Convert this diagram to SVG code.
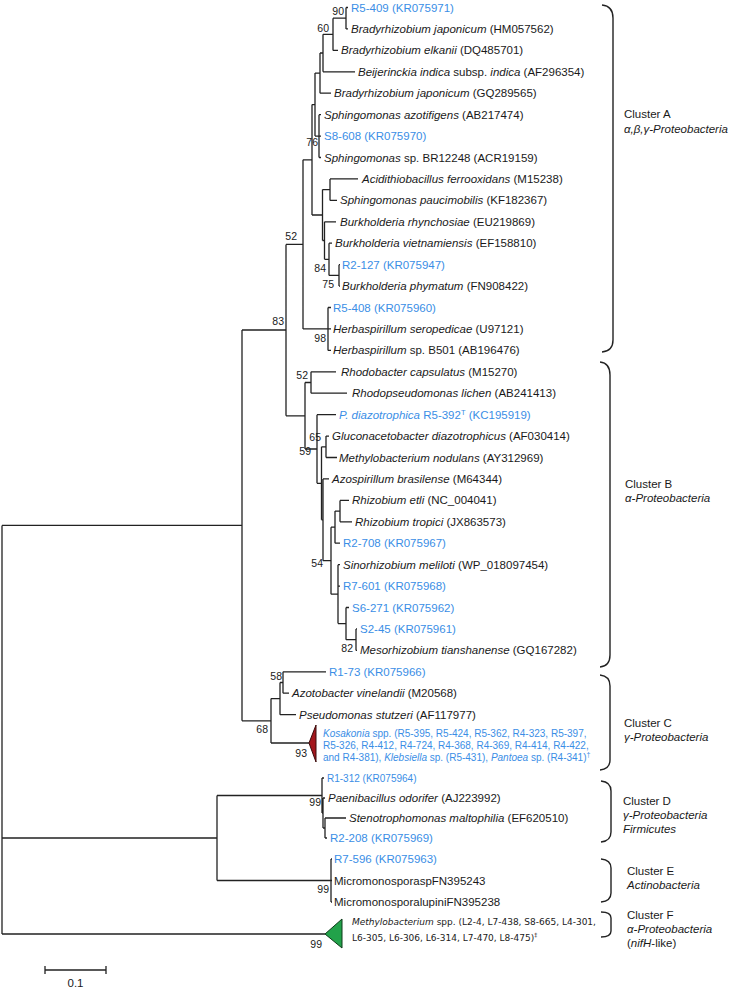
<svg xmlns="http://www.w3.org/2000/svg" width="731" height="988" viewBox="0 0 731 988">
<style>
text{font-family:"Liberation Sans",Arial,sans-serif;font-size:11.5px;fill:#1a1a1a}
.b{fill:#3a8ee6}
.i{font-style:italic}
.bs{font-size:10.5px;text-anchor:end}
.sm{font-size:10px}
.dv{font-family:"DejaVu Sans",sans-serif;font-size:9px}
.ln{stroke:#222;stroke-width:1.3;fill:none}
.br{stroke:#222;stroke-width:1.4;fill:none}
</style>
<rect width="731" height="988" fill="#fff"/>
<g id="connectors" class="ln">
<path d="M346,7.5V28.9M346,7.5H348M346,28.9H348M333,18.2V50.4M333,18.2H346M333,50.4H338M323,34.3V71.8M323,34.3H333M323,71.8H355M320,53V93.2M320,53H323M320,93.2H331M319,114.7V157.5M319,114.7H321M319,136.1H321M319,157.5H321M315,73.1V136.1M315,73.1H320M315,136.1H319M312,104.6V215M312,104.6H315M312,215H322.5"/>
<path d="M330,178.9V200.4M330,178.9H358M330,200.4H337M322.5,189.6V240.5M322.5,189.6H330M322.5,240.5H324.5M324.5,221.8V259.3M324.5,221.8H336M324.5,259.3H329M329,243.2V275.4M329,243.2H332M329,275.4H339M339,264.7V286.1M339,264.7H340M339,286.1H340M328,307.5V350.4M328,307.5H331M328,328.9H331M328,350.4H331M303,159.8V328.9M303,159.8H312M303,328.9H328M286,244.4V415.8M286,244.4H303M286,415.8H305"/>
<path d="M311,371.8V393.2M311,371.8H336M311,393.2H347M305,382.5V449M305,382.5H311M305,449H317M317,414.7V483.3M317,414.7H336M317,483.3H321.5M321.5,446.8V519.8M321.5,446.8H326M321.5,519.8H323M326,436.1V457.5M326,436.1H329M326,457.5H337M323,478.9V560.7M323,478.9H329M323,560.7H331"/>
<path d="M340,500.4V521.8M340,500.4H349M340,521.8H352M335,511.1V543.2M335,511.1H340M335,543.2H340M356,628.9V650.4M356,628.9H357M356,650.4H357M346,607.5V639.7M346,607.5H349M346,639.7H356M338,564.7V623.6M338,564.7H340M338,586.1H340M338,623.6H346M331,527.2V594.2M331,527.2H335M331,594.2H338"/>
<path d="M283,671.8V693.2M283,671.8H326M283,693.2H289M280,682.5V714.7M280,682.5H283M280,714.7H296M271,698.6V743M271,698.6H280M271,743H309"/>
<path d="M325,818V838M325,818H346M325,838H327M323,798V828M323,798H325M323,828H325M322,778V813M322,778H324M322,813H323"/>
<path d="M331,859V902M331,859H332M331,880.5H332M331,902H332"/>
<path d="M242,330V720.8M242,330H286M242,720.8H271M217,795.5V880.5M217,795.5H322M217,880.5H331M2,525.4V934M2,525.4H242M2,838H217M2,934H325"/>
</g>
<g id="clusterA">
<g id="n-r5-409"><text class="b" x="351" y="11.5">R5-409 (KR075971)</text></g>
<g id="n-bjap1"><text x="351" y="32.9"><tspan class="i">Bradyrhizobium japonicum</tspan> (HM057562)</text></g>
<g id="n-belk"><text x="341" y="54.4"><tspan class="i">Bradyrhizobium elkanii</tspan> (DQ485701)</text></g>
<g id="n-beij"><text x="358" y="75.8"><tspan class="i">Beijerinckia indica</tspan> subsp. <tspan class="i">indica</tspan> (AF296354)</text></g>
<g id="n-bjap2"><text x="334" y="97.2"><tspan class="i">Bradyrhizobium japonicum</tspan> (GQ289565)</text></g>
<g id="n-sazo"><text x="324" y="118.7"><tspan class="i">Sphingomonas azotifigens</tspan> (AB217474)</text></g>
<g id="n-s8-608"><text class="b" x="324" y="140.1">S8-608 (KR075970)</text></g>
<g id="n-sbr"><text x="324" y="161.5"><tspan class="i">Sphingomonas</tspan> sp. BR12248 (ACR19159)</text></g>
<g id="n-acid"><text x="362" y="182.9"><tspan class="i">Acidithiobacillus ferrooxidans</tspan> (M15238)</text></g>
<g id="n-spau"><text x="340" y="204.4"><tspan class="i">Sphingomonas paucimobilis</tspan> (KF182367)</text></g>
<g id="n-brhy"><text x="340" y="225.8"><tspan class="i">Burkholderia rhynchosiae</tspan> (EU219869)</text></g>
<g id="n-bvie"><text x="335" y="247.2"><tspan class="i">Burkholderia vietnamiensis</tspan> (EF158810)</text></g>
<g id="n-r2-127"><text class="b" x="342" y="268.7">R2-127 (KR075947)</text></g>
<g id="n-bphy"><text x="342" y="290.1"><tspan class="i">Burkholderia phymatum</tspan> (FN908422)</text></g>
<g id="n-r5-408"><text class="b" x="333" y="311.5">R5-408 (KR075960)</text></g>
<g id="n-hser"><text x="333" y="332.9"><tspan class="i">Herbaspirillum seropedicae</tspan> (U97121)</text></g>
<g id="n-hsp"><text x="333" y="354.4"><tspan class="i">Herbaspirillum</tspan> sp. B501 (AB196476)</text></g>
</g>
<g id="clusterB">
<g id="n-rcap"><text x="341" y="375.8"><tspan class="i">Rhodobacter capsulatus</tspan> (M15270)</text></g>
<g id="n-rlic"><text x="352" y="397.2"><tspan class="i">Rhodopseudomonas lichen</tspan> (AB241413)</text></g>
<g id="n-pdia"><text class="b" x="339" y="418.7"><tspan class="i">P. diazotrophica</tspan> R5-392<tspan font-size="7.5" dy="-4">T</tspan><tspan dy="4"> (KC195919)</tspan></text></g>
<g id="n-gdia"><text x="332" y="440.1"><tspan class="i">Gluconacetobacter diazotrophicus</tspan> (AF030414)</text></g>
<g id="n-mnod"><text x="339" y="461.5"><tspan class="i">Methylobacterium nodulans</tspan> (AY312969)</text></g>
<g id="n-abra"><text x="332" y="482.9"><tspan class="i">Azospirillum brasilense</tspan> (M64344)</text></g>
<g id="n-retl"><text x="352" y="504.4"><tspan class="i">Rhizobium etli</tspan> (NC_004041)</text></g>
<g id="n-rtro"><text x="355" y="525.8"><tspan class="i">Rhizobium tropici</tspan> (JX863573)</text></g>
<g id="n-r2-708"><text class="b" x="343" y="547.2">R2-708 (KR075967)</text></g>
<g id="n-smel"><text x="343" y="568.7"><tspan class="i">Sinorhizobium meliloti</tspan> (WP_018097454)</text></g>
<g id="n-r7-601"><text class="b" x="343" y="590.1">R7-601 (KR075968)</text></g>
<g id="n-s6-271"><text class="b" x="352" y="611.5">S6-271 (KR075962)</text></g>
<g id="n-s2-45"><text class="b" x="360" y="632.9">S2-45 (KR075961)</text></g>
<g id="n-mtia"><text x="360" y="654.4"><tspan class="i">Mesorhizobium tianshanense</tspan> (GQ167282)</text></g>
</g>
<g id="clusterC">
<g id="n-r1-73"><text class="b" x="329" y="675.8">R1-73 (KR075966)</text></g>
<g id="n-avin"><text x="292" y="697.2"><tspan class="i">Azotobacter vinelandii</tspan> (M20568)</text></g>
<g id="n-pstu"><text x="299" y="718.7"><tspan class="i">Pseudomonas stutzeri</tspan> (AF117977)</text></g>
<g id="n-kos">
<polygon points="309,743 316,725 316,762" fill="#a3161c" stroke="#3a0a0a" stroke-width="1"/>
<text class="b sm" x="323" y="737"><tspan class="i">Kosakonia</tspan> spp. (R5-395, R5-424, R5-362, R4-323, R5-397,</text>
<text class="b sm" x="323" y="749">R5-326, R4-412, R4-724, R4-368, R4-369, R4-414, R4-422,</text>
<text class="b sm" x="323" y="761">and R4-381), <tspan class="i">Klebsiella</tspan> sp. (R5-431), <tspan class="i">Pantoea</tspan> sp. (R4-341)<tspan font-size="7" dy="-4">†</tspan></text>
</g>
</g>
<g id="clusterD">
<g id="n-r1-312"><text class="b sm" x="327" y="782">R1-312 (KR075964)</text></g>
<g id="n-paen"><text x="328" y="802"><tspan class="i">Paenibacillus odorifer</tspan> (AJ223992)</text></g>
<g id="n-sten"><text x="349" y="822"><tspan class="i">Stenotrophomonas maltophilia</tspan> (EF620510)</text></g>
<g id="n-r2-208"><text class="b" x="330" y="842">R2-208 (KR075969)</text></g>
</g>
<g id="clusterE">
<g id="n-r7-596"><text class="b" x="334" y="863">R7-596 (KR075963)</text></g>
<g id="n-micro1"><text x="334" y="885">MicromonosporaspFN395243</text></g>
<g id="n-micro2"><text x="334" y="906">MicromonosporalupiniFN395238</text></g>
</g>
<g id="clusterF">
<polygon points="325,934 342,919 342,948" fill="#22a24a" stroke="#0d3a18" stroke-width="1"/>
<text class="dv" x="352" y="925"><tspan class="i">Methylobacterium</tspan> spp. (L2-4, L7-438, S8-665, L4-301,</text>
<text class="dv" x="352" y="941">L6-305, L6-306, L6-314, L7-470, L8-475)<tspan font-size="6" dy="-4">‡</tspan></text>
</g>
<g id="bootstrap">
<text class="bs" x="344" y="15">90</text>
<text class="bs" x="329" y="32">60</text>
<text class="bs" x="318" y="146">76</text>
<text class="bs" x="297" y="240">52</text>
<text class="bs" x="326" y="272">84</text>
<text class="bs" x="334" y="288">75</text>
<text class="bs" x="326" y="342">98</text>
<text class="bs" x="284" y="325">83</text>
<text class="bs" x="308" y="379">52</text>
<text class="bs" x="321" y="441">65</text>
<text class="bs" x="311" y="455">59</text>
<text class="bs" x="323" y="567">54</text>
<text class="bs" x="353" y="652">82</text>
<text class="bs" x="282" y="680">58</text>
<text class="bs" x="268" y="733">68</text>
<text class="bs" x="307" y="757">93</text>
<text class="bs" x="321" y="806">99</text>
<text class="bs" x="329" y="893">99</text>
<text class="bs" x="322" y="948">99</text>
</g>
<g id="brackets" class="br">
<path d="M602,5Q613,6 613,18V340Q613,351 602,352"/>
<path d="M600,362Q610,363 610,375V655Q610,666 600,667"/>
<path d="M600,675Q610,676 610,686V760Q610,769 600,770"/>
<path d="M601,781Q611,782 611,791V832Q611,841 601,842"/>
<path d="M601,859Q611,860 611,868V893Q611,901 601,902"/>
<path d="M601,912Q611,912 611,918V931Q611,937 601,937"/>
</g>
<g id="cluster-labels">
<text x="624" y="118">Cluster A</text><text class="i" x="624" y="133">α,β,γ-Proteobacteria</text>
<text x="625" y="488">Cluster B</text><text class="i" x="625" y="502">α-Proteobacteria</text>
<text x="624" y="727">Cluster C</text><text class="i" x="624" y="741">γ-Proteobacteria</text>
<text x="623" y="805">Cluster D</text><text class="i" x="623" y="819">γ-Proteobacteria</text><text class="i" x="623" y="833">Firmicutes</text>
<text x="627" y="875">Cluster E</text><text class="i" x="627" y="889">Actinobacteria</text>
<text x="627" y="919">Cluster F</text><text class="i" x="627" y="933">α-Proteobacteria</text><text x="627" y="947">(<tspan class="i">nifH</tspan>-like)</text>
</g>
<g id="scale">
<path class="ln" d="M45,970H106M45,966V974M106,966V974"/>
<text x="75.5" y="987" text-anchor="middle" font-size="11">0.1</text>
</g>
</svg>
